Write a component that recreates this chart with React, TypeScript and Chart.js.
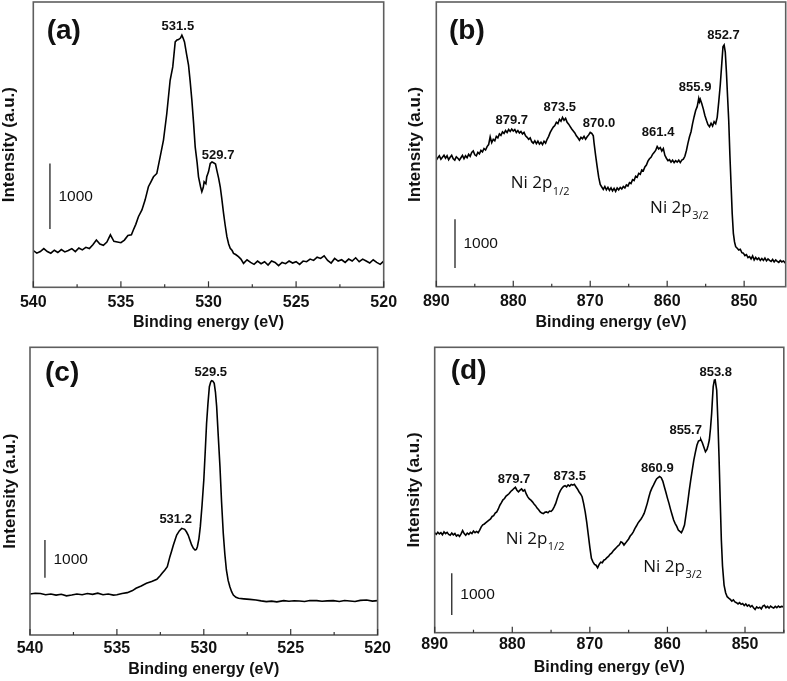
import React, { useEffect, useRef } from 'react';
import { Chart, registerables } from 'chart.js';
Chart.register(...registerables);
Chart.defaults.font.family = '"Liberation Sans", Arial, sans-serif';

type Pt = [number, number];

// (a) O 1s spectrum, binding energy (eV) vs counts
const spectrumA: Pt[] = [
  [540.0, 560], [539.8, 520], [539.6, 545], [539.4, 590], [539.2, 545], [539.0, 520], [538.8, 565], [538.6, 530],
  [538.4, 575], [538.2, 540], [538.0, 560], [537.8, 590], [537.6, 545], [537.4, 600], [537.2, 570], [537.0, 610],
  [536.8, 590], [536.6, 650], [536.4, 720], [536.2, 660], [536.0, 640], [535.8, 690], [535.6, 800], [535.4, 700],
  [535.2, 690], [535.0, 680], [534.8, 720], [534.6, 790], [534.4, 800], [534.29, 873], [534.15, 960], [534.0, 1076],
  [533.8, 1180], [533.62, 1330], [533.43, 1533], [533.3, 1600], [533.14, 1685], [532.95, 1736], [532.76, 1990],
  [532.57, 2244], [532.38, 2650], [532.19, 3157], [532.04, 3360], [531.9, 3741], [531.8, 3770], [531.71, 3777],
  [531.6, 3800], [531.52, 3843], [531.45, 3800], [531.37, 3741], [531.25, 3550], [531.14, 3386], [531.05, 3150],
  [530.95, 2853], [530.85, 2500], [530.76, 2142], [530.65, 1900], [530.57, 1685], [530.45, 1530], [530.38, 1457],
  [530.3, 1520], [530.25, 1609], [530.15, 1580], [530.1, 1685], [530.0, 1760], [529.9, 1888], [529.8, 1910],
  [529.71, 1898], [529.6, 1880], [529.52, 1780], [529.42, 1660], [529.33, 1533], [529.25, 1370], [529.14, 1127],
  [529.05, 950], [528.95, 772], [528.85, 660], [528.76, 594], [528.65, 560], [528.57, 518], [528.45, 500],
  [528.29, 467], [528.15, 430], [528.0, 365], [527.8, 420], [527.6, 380], [527.4, 350], [527.2, 400], [527.0, 360],
  [526.8, 390], [526.6, 340], [526.4, 400], [526.2, 380], [526.0, 330], [525.8, 380], [525.6, 360], [525.4, 400],
  [525.2, 370], [525.0, 390], [524.8, 350], [524.6, 400], [524.4, 390], [524.2, 430], [524.0, 410], [523.8, 460],
  [523.6, 440], [523.4, 480], [523.2, 410], [523.0, 370], [522.8, 440], [522.6, 400], [522.4, 420], [522.2, 380],
  [522.0, 430], [521.8, 400], [521.6, 450], [521.4, 390], [521.2, 430], [521.0, 400], [520.8, 370], [520.6, 420],
  [520.4, 380], [520.2, 350], [520.0, 400],
];

// (b) Ni 2p spectrum
const spectrumB: Pt[] = [
  [890.0, 2600], [889.8, 2650], [889.6, 2690], [889.4, 2620], [889.2, 2660], [889.0, 2700], [888.8, 2640],
  [888.6, 2690], [888.4, 2610], [888.2, 2660], [888.0, 2700], [887.8, 2630], [887.6, 2600], [887.4, 2670],
  [887.2, 2640], [887.0, 2600], [886.8, 2650], [886.6, 2700], [886.4, 2630], [886.2, 2690], [886.0, 2650],
  [885.8, 2720], [885.6, 2680], [885.4, 2760], [885.2, 2790], [885.0, 2710], [884.8, 2690], [884.6, 2760],
  [884.4, 2730], [884.2, 2800], [884.0, 2770], [883.8, 2840], [883.6, 2810], [883.4, 2880], [883.2, 2920],
  [883.0, 3080], [882.8, 2960], [882.6, 3030], [882.4, 3000], [882.2, 3090], [882.0, 3060], [881.8, 3140],
  [881.6, 3110], [881.4, 3180], [881.2, 3150], [881.0, 3210], [880.8, 3170], [880.6, 3230], [880.4, 3190],
  [880.2, 3240], [880.0, 3200], [879.8, 3230], [879.6, 3170], [879.4, 3210], [879.2, 3160], [879.0, 3190],
  [878.8, 3140], [878.6, 3170], [878.4, 3100], [878.2, 3070], [878.0, 3030], [877.8, 3060], [877.6, 2980],
  [877.4, 2950], [877.2, 3000], [877.0, 2940], [876.8, 2990], [876.6, 2930], [876.4, 2970], [876.2, 2920],
  [876.0, 2990], [875.8, 2950], [875.6, 3030], [875.4, 3090], [875.2, 3170], [875.0, 3230], [874.8, 3280],
  [874.6, 3310], [874.4, 3380], [874.2, 3350], [874.0, 3440], [873.8, 3400], [873.6, 3480], [873.4, 3420],
  [873.2, 3460], [873.0, 3380], [872.8, 3340], [872.6, 3290], [872.4, 3240], [872.2, 3200], [872.0, 3160],
  [871.8, 3100], [871.6, 3060], [871.4, 3010], [871.2, 3070], [871.0, 3040], [870.8, 3090], [870.6, 3030],
  [870.4, 3080], [870.2, 3120], [870.0, 3170], [869.8, 3150], [869.6, 3100], [869.5, 2950], [869.3, 2700],
  [869.1, 2466], [868.9, 2250], [868.7, 2100], [868.5, 2050], [868.3, 2000], [868.1, 2060], [867.9, 1990],
  [867.7, 2040], [867.5, 1980], [867.3, 2030], [867.1, 1970], [866.9, 2020], [866.7, 1960], [866.5, 2030],
  [866.3, 1990], [866.1, 2040], [865.9, 2010], [865.7, 2060], [865.5, 2030], [865.3, 2090], [865.1, 2070],
  [864.9, 2140], [864.7, 2120], [864.5, 2200], [864.3, 2180], [864.1, 2270], [863.9, 2250], [863.7, 2330],
  [863.5, 2310], [863.3, 2400], [863.1, 2380], [862.9, 2460], [862.7, 2500], [862.5, 2580], [862.3, 2630],
  [862.1, 2660], [861.9, 2720], [861.7, 2760], [861.5, 2800], [861.3, 2880], [861.1, 2830], [860.9, 2860],
  [860.7, 2790], [860.5, 2840], [860.3, 2700], [860.1, 2640], [859.9, 2590], [859.7, 2610], [859.5, 2560],
  [859.3, 2600], [859.1, 2550], [858.9, 2590], [858.7, 2560], [858.5, 2600], [858.3, 2550], [858.1, 2600],
  [857.9, 2620], [857.7, 2680], [857.5, 2800], [857.3, 2950], [857.1, 3080], [856.9, 3185], [856.7, 3350],
  [856.5, 3494], [856.3, 3620], [856.1, 3700], [855.9, 3870], [855.8, 3800], [855.7, 3850], [855.5, 3760],
  [855.3, 3650], [855.1, 3520], [854.9, 3420], [854.7, 3330], [854.5, 3290], [854.3, 3360], [854.1, 3300],
  [853.9, 3390], [853.7, 3350], [853.5, 3480], [853.3, 3800], [853.1, 4150], [852.9, 4600], [852.75, 4932],
  [852.6, 4970], [852.45, 4820], [852.3, 4400], [852.15, 3900], [852.0, 3400], [851.85, 2700], [851.7, 2100],
  [851.55, 1500], [851.4, 1096], [851.25, 920], [851.1, 822], [850.9, 790], [850.7, 754], [850.5, 770],
  [850.3, 700], [850.1, 690], [849.9, 640], [849.7, 660], [849.5, 600], [849.3, 620], [849.1, 570],
  [848.9, 630], [848.7, 548], [848.5, 600], [848.3, 560], [848.1, 590], [847.9, 540], [847.7, 580],
  [847.5, 540], [847.3, 590], [847.1, 530], [846.9, 570], [846.7, 540], [846.5, 520], [846.3, 560],
  [846.1, 510], [845.9, 550], [845.7, 520], [845.5, 500], [845.3, 540], [845.1, 510], [844.9, 530], [844.6, 480],
];

// (c) O 1s spectrum
const spectrumC: Pt[] = [
  [540.0, 1089], [539.7, 1110], [539.4, 1100], [539.1, 1070], [538.8, 1090], [538.5, 1060], [538.2, 1080],
  [537.9, 1040], [537.6, 1060], [537.3, 1090], [537.0, 1070], [536.7, 1100], [536.4, 1080], [536.1, 1110],
  [535.8, 1070], [535.5, 1090], [535.2, 1060], [535.0, 1070], [534.7, 1100], [534.4, 1124], [534.1, 1180],
  [533.9, 1239], [533.6, 1300], [533.3, 1372], [533.0, 1420], [532.7, 1478], [532.5, 1580], [532.4, 1637],
  [532.25, 1720], [532.1, 1814], [531.95, 2080], [531.85, 2230], [531.75, 2390], [531.65, 2530], [531.56, 2655],
  [531.4, 2770], [531.27, 2832], [531.1, 2805], [531.0, 2740], [530.9, 2655], [530.8, 2520], [530.7, 2390],
  [530.6, 2300], [530.5, 2257], [530.43, 2270], [530.37, 2345], [530.28, 2560], [530.2, 2876], [530.1, 3450],
  [530.0, 4115], [529.92, 4850], [529.84, 5620], [529.76, 6150], [529.68, 6593], [529.6, 6720], [529.55, 6753],
  [529.48, 6740], [529.4, 6682], [529.33, 6450], [529.26, 6062], [529.17, 5300], [529.07, 4469], [528.98, 3550],
  [528.88, 2700], [528.79, 2150], [528.7, 1726], [528.6, 1450], [528.5, 1283], [528.4, 1150], [528.3, 1062],
  [528.15, 1000], [528.0, 974], [527.7, 960], [527.35, 947], [527.0, 930], [526.7, 905], [526.4, 885],
  [526.1, 900], [525.8, 880], [525.4, 912], [525.1, 895], [524.8, 910], [524.5, 903], [524.2, 890],
  [523.9, 915], [523.5, 912], [523.2, 895], [522.9, 905], [522.55, 912], [522.2, 890], [521.9, 915],
  [521.6, 903], [521.3, 890], [521.0, 920], [520.63, 929], [520.3, 900], [520.0, 912],
];

// (d) Ni 2p spectrum
const spectrumD: Pt[] = [
  [890.0, 2400], [889.8, 2360], [889.6, 2410], [889.4, 2370], [889.2, 2400], [889.0, 2350], [888.8, 2420],
  [888.6, 2380], [888.4, 2410], [888.2, 2360], [888.0, 2340], [887.8, 2390], [887.6, 2350], [887.4, 2380],
  [887.2, 2320], [887.0, 2350], [886.8, 2310], [886.6, 2370], [886.4, 2450], [886.2, 2380], [886.0, 2340],
  [885.8, 2390], [885.6, 2360], [885.4, 2410], [885.2, 2380], [885.0, 2440], [884.8, 2400], [884.6, 2430],
  [884.4, 2400], [884.2, 2460], [884.0, 2540], [883.8, 2590], [883.6, 2610], [883.4, 2640], [883.2, 2670],
  [883.0, 2700], [882.8, 2730], [882.6, 2790], [882.4, 2810], [882.2, 2870], [882.0, 2900], [881.8, 2970],
  [881.6, 3060], [881.4, 3120], [881.2, 3190], [881.0, 3220], [880.8, 3280], [880.6, 3310], [880.4, 3340],
  [880.2, 3390], [880.0, 3420], [879.8, 3460], [879.6, 3490], [879.4, 3420], [879.2, 3380], [879.0, 3420],
  [878.8, 3450], [878.6, 3400], [878.4, 3430], [878.2, 3330], [878.0, 3260], [877.8, 3210], [877.6, 3180],
  [877.4, 3140], [877.2, 3090], [877.0, 3050], [876.8, 2990], [876.6, 2950], [876.4, 2900], [876.2, 2870],
  [876.0, 2860], [875.8, 2890], [875.6, 2900], [875.4, 2880], [875.2, 2920], [875.0, 2910], [874.8, 2950],
  [874.6, 3020], [874.4, 3104], [874.2, 3220], [874.0, 3328], [873.8, 3410], [873.6, 3470], [873.4, 3510],
  [873.2, 3530], [873.0, 3500], [872.8, 3550], [872.6, 3520], [872.4, 3560], [872.2, 3540], [872.0, 3560],
  [871.8, 3504], [871.6, 3450], [871.4, 3384], [871.2, 3330], [871.0, 3264], [870.8, 3100], [870.6, 2900],
  [870.4, 2650], [870.2, 2350], [870.0, 2050], [869.8, 1784], [869.6, 1700], [869.4, 1640], [869.2, 1620],
  [869.0, 1560], [868.8, 1640], [868.6, 1690], [868.4, 1680], [868.2, 1740], [868.0, 1760], [867.8, 1800],
  [867.6, 1830], [867.4, 1880], [867.2, 1910], [867.0, 1960], [866.8, 2000], [866.6, 2040], [866.4, 2080],
  [866.2, 2110], [866.0, 2180], [865.8, 2160], [865.6, 2104], [865.4, 2150], [865.2, 2200], [865.0, 2250],
  [864.8, 2320], [864.6, 2360], [864.4, 2420], [864.2, 2500], [864.0, 2560], [863.8, 2630], [863.6, 2680],
  [863.4, 2730], [863.2, 2790], [863.0, 2864], [862.8, 2980], [862.6, 3104], [862.4, 3250], [862.2, 3380],
  [862.0, 3470], [861.8, 3540], [861.6, 3620], [861.4, 3690], [861.2, 3720], [861.0, 3750], [860.8, 3720],
  [860.6, 3640], [860.4, 3504], [860.2, 3370], [860.0, 3230], [859.8, 3104], [859.6, 2960], [859.4, 2830],
  [859.2, 2704], [859.0, 2620], [858.8, 2550], [858.6, 2464], [858.4, 2430], [858.2, 2400], [858.0, 2480],
  [857.8, 2584], [857.6, 2840], [857.4, 3104], [857.2, 3400], [857.0, 3664], [856.8, 3900], [856.6, 4144],
  [856.4, 4330], [856.2, 4500], [856.0, 4600], [855.8, 4620], [855.7, 4640], [855.5, 4560], [855.3, 4450],
  [855.1, 4344], [854.9, 4400], [854.75, 4500], [854.6, 4624], [854.45, 4900], [854.3, 5264], [854.2, 5600],
  [854.1, 5904], [853.95, 6064], [853.85, 6070], [853.65, 5824], [853.5, 5100], [853.35, 4224], [853.2, 3200],
  [853.05, 2224], [852.9, 1600], [852.7, 1144], [852.5, 960], [852.3, 864], [852.1, 830], [851.9, 800],
  [851.7, 760], [851.5, 790], [851.3, 740], [851.1, 720], [850.9, 690], [850.7, 720], [850.5, 680],
  [850.3, 700], [850.1, 650], [849.9, 690], [849.7, 640], [849.5, 670], [849.3, 620], [849.1, 650],
  [848.9, 600], [848.7, 560], [848.5, 620], [848.3, 590], [848.1, 610], [847.9, 570], [847.7, 640],
  [847.5, 660], [847.3, 600], [847.1, 630], [846.9, 590], [846.7, 640], [846.5, 610], [846.3, 590],
  [846.1, 630], [845.9, 600], [845.7, 640], [845.5, 610], [845.3, 630], [845.0, 620],
];

type Note = { text: string; x: number; y: number };
type NiNote = { sub: string; x: number; y: number };

const peaksA: Note[] = [
  { text: '531.5', x: 531.75, y: 3980 },
  { text: '529.7', x: 529.45, y: 2015 },
];
const peaksB: Note[] = [
  { text: '852.7', x: 852.69, y: 5172 },
  { text: '855.9', x: 856.37, y: 4098 },
  { text: '861.4', x: 861.18, y: 3165 },
  { text: '870.0', x: 868.85, y: 3358 },
  { text: '873.5', x: 873.96, y: 3678 },
  { text: '879.7', x: 880.2, y: 3426 },
];
const peaksC: Note[] = [
  { text: '529.5', x: 529.6, y: 6975 },
  { text: '531.2', x: 531.62, y: 3080 },
];
const peaksD: Note[] = [
  { text: '853.8', x: 853.78, y: 6250 },
  { text: '855.7', x: 857.65, y: 4848 },
  { text: '860.9', x: 861.3, y: 3946 },
  { text: '873.5', x: 872.6, y: 3744 },
  { text: '879.7', x: 879.78, y: 3682 },
];
const niB: NiNote[] = [
  { sub: '1/2', x: 880.33, y: 2028 },
  { sub: '3/2', x: 862.22, y: 1515 },
];
const niD: NiNote[] = [
  { sub: '1/2', x: 880.85, y: 2129 },
  { sub: '3/2', x: 863.11, y: 1464 },
];

const SCALE_BAR_COUNTS = 1000;

type Cfg = {
  tag: string; left: number; top: number; width: number; height: number;
  data: Pt[]; xMin: number; xMax: number; yMax: number; step: number; major: number;
  padTop: number; padRight: number; yWidth: number; xHeight: number;
  tickPad: number; xTitlePad: number; yTitlePad: number; tagDx: number; tagDy: number;
  peaks: Note[]; ni: NiNote[]; barX: number; barY: number;
};

const panels: Cfg[] = [
  { tag: '(a)', left: 0, top: 0, width: 398, height: 340, data: spectrumA, xMin: 520, xMax: 540, yMax: 4350,
    step: 2.5, major: 5, padTop: 2, padRight: 14.3, yWidth: 33.3, xHeight: 52.7, tickPad: 5.8, xTitlePad: 8.2,
    yTitlePad: 0.5, tagDx: 13.4, tagDy: 29.7, peaks: peaksA, ni: [], barX: 539.05, barY: 888 },
  { tag: '(b)', left: 394, top: 0, width: 393, height: 340, data: spectrumB, xMin: 844.6, xMax: 890, yMax: 5851,
    step: 5, major: 10, padTop: 2, padRight: 1.3, yWidth: 42.3, xHeight: 53.3, tickPad: 5.4, xTitlePad: 7.6,
    yTitlePad: 12.8, tagDx: 12.7, tagDy: 29.7, peaks: peaksB, ni: niB, barX: 887.57, barY: 384 },
  { tag: '(c)', left: 0, top: 340, width: 398, height: 341, data: spectrumC, xMin: 520, xMax: 540, yMax: 7638,
    step: 2.5, major: 5, padTop: 7.3, padRight: 20.4, yWidth: 30, xHeight: 46, tickPad: 3.7, xTitlePad: 1.9,
    yTitlePad: 1.5, tagDx: 15, tagDy: 26, peaks: peaksC, ni: [], barX: 539.14, barY: 1521 },
  { tag: '(d)', left: 394, top: 340, width: 393, height: 341, data: spectrumD, xMin: 845, xMax: 890, yMax: 6850,
    step: 5, major: 10, padTop: 7.3, padRight: 3.2, yWidth: 40.7, xHeight: 48.3, tickPad: 2.7, xTitlePad: 3.6,
    yTitlePad: 12.3, tagDx: 16, tagDy: 24.4, peaks: peaksD, ni: niD, barX: 887.8, barY: 425 },
];

const isMultiple = (v: number, s: number) => Math.abs(v / s - Math.round(v / s)) < 1e-6;

function makeDecor(cfg: Cfg) {
  return {
    id: 'decor' + cfg.tag,
    afterDatasetsDraw(chart: any) {
      const { ctx, chartArea: a } = chart;
      const xs = chart.scales.x;
      const ys = chart.scales.y;
      ctx.save();
      // frame
      ctx.strokeStyle = '#5e5e5e';
      ctx.lineWidth = 1.6;
      ctx.strokeRect(a.left, a.top, a.right - a.left, a.bottom - a.top);
      // inward ticks
      ctx.strokeStyle = '#333';
      ctx.lineWidth = 1.2;
      for (const t of xs.ticks) {
        const v = t.value;
        if (!isMultiple(v, cfg.step)) continue;
        const len = isMultiple(v, cfg.major) ? 6 : 3;
        const px = xs.getPixelForValue(v);
        ctx.beginPath();
        ctx.moveTo(px, a.bottom);
        ctx.lineTo(px, a.bottom - len);
        ctx.stroke();
      }
      // scale bar
      const bx = xs.getPixelForValue(cfg.barX);
      const by0 = ys.getPixelForValue(cfg.barY);
      const by1 = ys.getPixelForValue(cfg.barY + SCALE_BAR_COUNTS);
      ctx.strokeStyle = '#222';
      ctx.lineWidth = 1.3;
      ctx.beginPath();
      ctx.moveTo(bx, by0);
      ctx.lineTo(bx, by1);
      ctx.stroke();
      ctx.fillStyle = '#111';
      ctx.font = '15.5px "Liberation Sans", Arial, sans-serif';
      ctx.textAlign = 'left';
      ctx.textBaseline = 'middle';
      ctx.fillText(String(SCALE_BAR_COUNTS), bx + 8.5, (by0 + by1) / 2 + 0.5);
      // peak labels
      ctx.font = 'bold 13px "Liberation Sans", Arial, sans-serif';
      ctx.textAlign = 'center';
      for (const p of cfg.peaks) {
        ctx.fillText(p.text, xs.getPixelForValue(p.x), ys.getPixelForValue(p.y));
      }
      // Ni 2p labels
      ctx.textAlign = 'left';
      ctx.textBaseline = 'alphabetic';
      for (const n of cfg.ni) {
        const px = xs.getPixelForValue(n.x);
        const py = ys.getPixelForValue(n.y);
        ctx.font = '17px "Open Sans", sans-serif';
        const main = 'Ni 2p';
        ctx.fillText(main, px, py);
        const w = ctx.measureText(main).width;
        ctx.font = '11px "Open Sans", sans-serif';
        ctx.fillText(n.sub, px + w + 0.5, py + 6.5);
      }
      // panel tag
      ctx.font = 'bold 28px "Liberation Sans", Arial, sans-serif';
      ctx.textBaseline = 'middle';
      ctx.fillText(cfg.tag, a.left + cfg.tagDx, a.top + cfg.tagDy);
      ctx.restore();
    },
  };
}

function Panel({ cfg }: { cfg: Cfg }) {
  const ref = useRef<HTMLCanvasElement | null>(null);
  useEffect(() => {
    if (!ref.current) return;
    const chart = new Chart(ref.current, {
      type: 'line',
      data: {
        datasets: [{
          data: cfg.data.map(([x, y]) => ({ x, y })),
          borderColor: '#000',
          borderWidth: 1.6,
          pointRadius: 0,
          tension: 0,
          fill: false,
        }],
      },
      options: {
        animation: false,
        responsive: false,
        events: [],
        layout: { padding: { top: cfg.padTop, right: cfg.padRight, left: 0, bottom: 0 } },
        plugins: { legend: { display: false }, tooltip: { enabled: false } },
        scales: {
          x: {
            type: 'linear',
            min: cfg.xMin,
            max: cfg.xMax,
            reverse: true,
            grid: { display: false, drawTicks: false },
            border: { display: false },
            ticks: {
              stepSize: cfg.step,
              autoSkip: false,
              maxRotation: 0,
              padding: cfg.tickPad,
              color: '#111',
              font: { size: 16, weight: 'bold' },
              callback: (v: any) => (isMultiple(Number(v), cfg.major) ? String(v) : ''),
            },
            title: {
              display: true,
              text: 'Binding energy (eV)',
              color: '#111',
              font: { size: 16, weight: 'bold' },
              padding: { top: 0, bottom: cfg.xTitlePad },
            },
            afterFit: (s: any) => { s.height = cfg.xHeight; s.paddingLeft = 0; s.paddingRight = 0; },
          },
          y: {
            type: 'linear',
            min: 0,
            max: cfg.yMax,
            grid: { display: false, drawTicks: false },
            border: { display: false },
            ticks: { display: false },
            title: {
              display: true,
              text: 'Intensity (a.u.)',
              color: '#111',
              font: { size: 17, weight: 'bold', lineHeight: 1 },
              padding: { top: cfg.yTitlePad, bottom: 0 },
            },
            afterFit: (s: any) => { s.width = cfg.yWidth; s.paddingTop = 0; s.paddingBottom = 0; },
          },
        },
      } as any,
      plugins: [makeDecor(cfg)],
    });
    return () => chart.destroy();
  }, [cfg]);
  return (
    <div style={{ position: 'absolute', left: cfg.left, top: cfg.top, width: cfg.width, height: cfg.height }}>
      <canvas ref={ref} width={cfg.width} height={cfg.height} style={{ display: 'block' }} />
    </div>
  );
}

export default function App() {
  return (
    <div style={{ position: 'fixed', left: 0, top: 0, width: 787, height: 681, background: '#fff', overflow: 'hidden' }}>
      {panels.map((p) => <Panel key={p.tag} cfg={p} />)}
    </div>
  );
}
